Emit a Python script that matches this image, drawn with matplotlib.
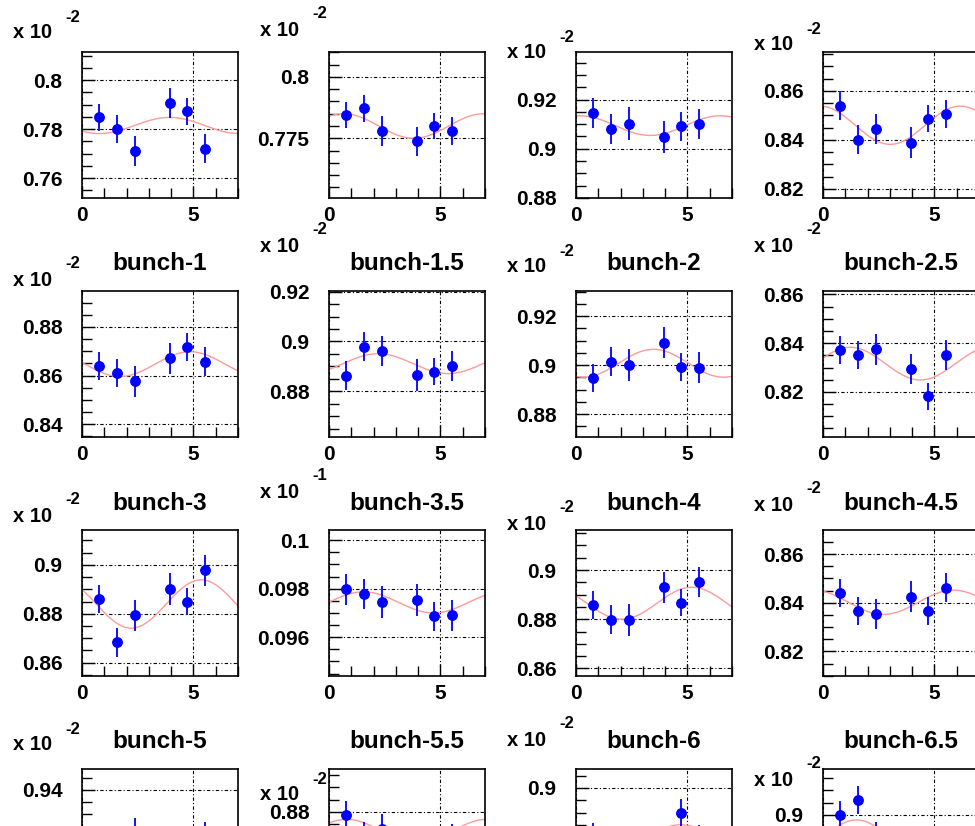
import numpy as np
import matplotlib
matplotlib.use('Agg')
import matplotlib.pyplot as plt
from matplotlib.ticker import MultipleLocator, FuncFormatter

plt.rcParams['font.family'] = ['Liberation Sans', 'DejaVu Sans']
plt.rcParams['font.weight'] = 'bold'

# ---------------------------- data ----------------------------------
x_pts = [0.785, 1.571, 2.356, 3.927, 4.712, 5.498]

titles = ['', '', '', '',
          'bunch-1', 'bunch-1.5', 'bunch-2', 'bunch-2.5',
          'bunch-3', 'bunch-3.5', 'bunch-4', 'bunch-4.5',
          'bunch-5', 'bunch-5.5', 'bunch-6', 'bunch-6.5']

y_vals = [
    [0.7848, 0.7801, 0.7710, 0.7907, 0.7873, 0.7720],
    [0.7844, 0.7872, 0.7780, 0.7737, 0.7801, 0.7781],
    [0.9147, 0.9081, 0.9102, 0.9047, 0.9092, 0.9100],
    [0.8540, 0.8400, 0.8445, 0.8389, 0.8487, 0.8506],
    [0.8640, 0.8610, 0.8576, 0.8671, 0.8719, 0.8657],
    [0.8863, 0.8979, 0.8962, 0.8866, 0.8879, 0.8903],
    [0.8948, 0.9014, 0.9000, 0.9092, 0.8993, 0.8990],
    [0.8371, 0.8351, 0.8375, 0.8293, 0.8182, 0.8351],
    [0.8860, 0.8683, 0.8793, 0.8902, 0.8849, 0.8978],
    [0.09797, 0.09779, 0.09745, 0.09752, 0.09686, 0.09690],
    [0.8858, 0.8797, 0.8797, 0.8930, 0.8868, 0.8953],
    [0.8441, 0.8365, 0.8354, 0.8425, 0.8365, 0.8462],
    [0.915, 0.912, 0.922, 0.910, 0.913, 0.921],
    [0.8788, 0.870, 0.873, 0.868, 0.866, 0.869],
    [0.880, 0.876, 0.875, 0.878, 0.8898, 0.879],
    [0.900, 0.9061, 0.891, 0.885, 0.884, 0.888],
]

y_errs = [
    [0.0055, 0.0056, 0.0062, 0.0060, 0.0056, 0.0060],
    [0.0053, 0.0054, 0.0060, 0.0059, 0.0052, 0.0057],
    [0.0061, 0.0060, 0.0066, 0.0064, 0.0059, 0.0062],
    [0.0058, 0.0059, 0.0062, 0.0062, 0.0056, 0.0059],
    [0.0057, 0.0057, 0.0064, 0.0064, 0.0058, 0.0060],
    [0.0058, 0.0058, 0.0062, 0.0064, 0.0055, 0.0060],
    [0.0059, 0.0060, 0.0065, 0.0064, 0.0057, 0.0062],
    [0.0057, 0.0056, 0.0064, 0.0062, 0.0055, 0.0060],
    [0.0059, 0.0059, 0.0064, 0.0066, 0.0056, 0.0063],
    [0.000625, 0.000625, 0.00067, 0.00066, 0.00059, 0.00063],
    [0.0058, 0.0059, 0.0065, 0.0064, 0.0056, 0.0061],
    [0.0057, 0.0057, 0.0063, 0.0063, 0.0057, 0.0059],
    [0.0058, 0.0058, 0.0063, 0.0063, 0.0056, 0.0060],
    [0.0058, 0.0058, 0.0063, 0.0063, 0.0056, 0.0060],
    [0.0058, 0.0058, 0.0063, 0.0063, 0.0056, 0.0060],
    [0.0058, 0.0058, 0.0063, 0.0063, 0.0056, 0.0060],
]

# fit: mean, amplitude, position of maximum
fit_par = [
    (0.7815, 0.0033, 3.93),
    (0.7800, 0.0050, 0.66),
    (0.9094, 0.0040, 0.19),
    (0.8460, 0.0078, 6.16),
    (0.8647, 0.0051, 4.85),
    (0.8911, 0.0040, 2.20),
    (0.9008, 0.0057, 3.48),
    (0.8316, 0.0067, 1.23),
    (0.8840, 0.0099, 5.35),
    (0.097435, 0.000435, 1.55),
    (0.8865, 0.0065, 5.20),
    (0.8402, 0.0050, 5.85),
    (0.916, 0.005, 5.0),
    (0.872, 0.005, 0.8),
    (0.880, 0.005, 4.7),
    (0.890, 0.008, 1.5),
]

y_ranges = [
    (0.7519, 0.8115), (0.7507, 0.8101), (0.8800, 0.9393), (0.8163, 0.8759),
    (0.8347, 0.8948), (0.8616, 0.9203), (0.8707, 0.9303), (0.8015, 0.8614),
    (0.8545, 0.9143), (0.0944, 0.10042), (0.8569, 0.9163), (0.8099, 0.8699),
    (0.8887, 0.9486), (0.8380, 0.8975), (0.8483, 0.9077), (0.8593, 0.9187),
]
major_step = [0.02, 0.025, 0.02, 0.02,
              0.02, 0.02, 0.02, 0.02,
              0.02, 0.002, 0.02, 0.02,
              0.02, 0.02, 0.02, 0.02]
exponents = ['-2'] * 9 + ['-1'] + ['-2'] * 6

# --------------------------- layout (pixels) ------------------------
W, H = 975, 826
col_left = [82, 329, 576, 823]
row_top = [52, 291, 530, 769]
ax_w, ax_h = 156, 146
exp_dy = [-19, -22, 1, -7,
          -11, -45, -24, -45,
          -14, -38, -6, -25,
          -24, 26, -29, 11]

fig = plt.figure(figsize=(W / 100, H / 100), dpi=100)
fig.patch.set_facecolor('white')

xs = np.linspace(0, 7, 300)


def make_fmt(lo, hi, top):
    # hide labels that would fall past the bottom edge of the canvas
    def f(v, pos):
        ypix = top + (hi - v) / (hi - lo) * ax_h
        if ypix + 9 > H:
            return ''
        return '%g' % round(v, 5)
    return FuncFormatter(f)


for i in range(16):
    r, c = divmod(i, 4)
    l, t = col_left[c], row_top[r]
    ax = fig.add_axes([l / W, 1 - (t + ax_h) / H, ax_w / W, ax_h / H])
    lo, hi = y_ranges[i]
    ax.set_xlim(0, 7)
    ax.set_ylim(lo, hi)

    m, a, ph = fit_par[i]
    ax.plot(xs, m + a * np.cos(xs - ph), color='#ff9a9a', lw=1.0, zorder=2)
    ax.errorbar(x_pts, y_vals[i], yerr=y_errs[i], fmt='o', color='#0000ff',
                ms=6.8, elinewidth=1.3, capsize=0, zorder=3)

    ax.xaxis.set_major_locator(MultipleLocator(5))
    ax.xaxis.set_minor_locator(MultipleLocator(1))
    ax.yaxis.set_major_locator(MultipleLocator(major_step[i]))
    ax.yaxis.set_minor_locator(MultipleLocator(major_step[i] / (5 if major_step[i] == 0.025 else 4)))
    ax.yaxis.set_major_formatter(make_fmt(lo, hi, t))
    ax.xaxis.set_major_formatter(FuncFormatter(lambda v, p: '%d' % v))
    ax.tick_params(which='both', direction='in', top=False, right=False,
                   color='black', width=1.0)
    ax.tick_params(which='major', length=9)
    ax.tick_params(which='minor', length=7)
    ax.tick_params(axis='y', which='major', pad=14, labelsize=15)
    ax.tick_params(axis='x', which='major', pad=6, labelsize=15)
    if r == 3:
        ax.tick_params(axis='x', labelbottom=False)
    for lab in ax.get_xticklabels() + ax.get_yticklabels():
        lab.set_fontweight('bold')
    ax.grid(True, which='major', color='black', lw=0.8,
            linestyle=(0, (3, 2, 1, 2)), zorder=1)
    for s in ax.spines.values():
        s.set_linewidth(1.2)
        s.set_color('black')

    if titles[i]:
        fig.text((l + ax_w / 2) / W, 1 - (t - 27) / H, titles[i],
                 ha='center', va='center', fontsize=17.5, fontweight='bold')
    ex_x, ex_y = l - 69, t + exp_dy[i]
    fig.text(ex_x / W, 1 - ex_y / H, 'x 10', ha='left', va='center',
             fontsize=14.5, fontweight='bold')
    fig.text((ex_x + 52) / W, 1 - (ex_y - 16) / H, exponents[i],
             ha='left', va='center', fontsize=12, fontweight='bold')

fig.savefig('out.png', dpi=100)
